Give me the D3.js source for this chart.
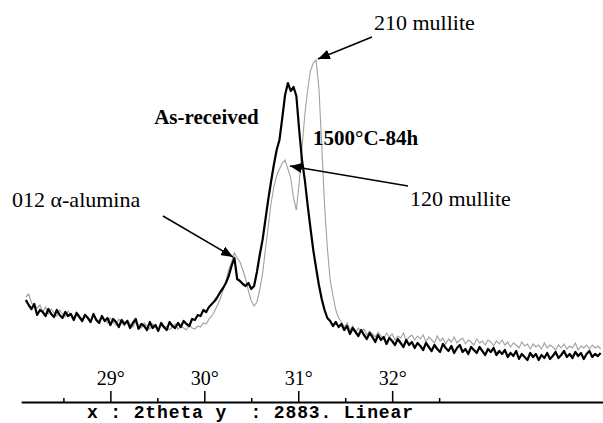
<!DOCTYPE html>
<html>
<head>
<meta charset="utf-8">
<script src="https://cdn.jsdelivr.net/npm/d3@7"></script>
<style>
  html, body { margin: 0; padding: 0; background: #fff; }
  svg { display: block; }
</style>
</head>
<body>
<svg id="chart" width="603" height="423"></svg>
<script>
// ---- data ----
// 2theta sampling grid (instrument step 0.03 deg starting at 28.10 deg)
const twoThetaStart = 28.10;
const twoThetaStep = 0.03;

// As-received (black) intensities, arbitrary units
const asReceived = [
  100, 95, 91, 96, 85, 90, 88, 84, 91, 86,
  83, 90, 85, 82, 88, 84, 86, 80, 87, 83,
  79, 85, 82, 78, 86, 80, 77, 84, 79, 82,
  75, 81, 78, 73, 80, 76, 79, 72, 77, 81,
  71, 76, 74, 70, 78, 72, 75, 69, 77, 73,
  70, 78, 74, 72, 77, 73, 79, 76, 74, 81,
  80, 85, 84, 90, 88, 93, 96, 99, 103, 108,
  112, 117, 124, 134, 142, 121, 119, 116, 114, 117,
  111, 114, 128, 145, 160, 180, 200, 218, 235, 250,
  260, 282, 305, 317, 309, 313, 304, 270, 240, 220,
  195, 172, 150, 132, 115, 101, 90, 82, 79, 74,
  78, 73, 76, 70, 74, 66, 72, 68, 64, 70,
  65, 61, 67, 63, 58, 65, 60, 63, 56, 62,
  59, 55, 61, 57, 53, 60, 55, 58, 52, 57,
  54, 50, 57, 53, 49, 55, 51, 48, 56, 52,
  49, 54, 47, 52, 55, 48, 51, 46, 53, 50,
  47, 53, 49, 45, 51, 48, 52, 45, 49, 46,
  50, 43, 47, 44, 49, 41, 46, 43, 40, 47,
  43, 46, 40, 45, 42, 47, 41, 44, 48, 42,
  45, 49, 43, 46, 42, 48, 44, 47, 41, 46,
  49, 43, 46, 44, 47
];

// 1500°C-84h (grey) intensities, arbitrary units
const heatTreated = [
  103, 106, 97, 94, 92, 95, 88, 93, 86, 91,
  87, 84, 90, 86, 83, 89, 85, 81, 88, 84,
  80, 86, 83, 79, 85, 81, 78, 84, 80, 77,
  82, 78, 75, 81, 77, 74, 80, 76, 73, 78,
  75, 72, 77, 74, 71, 76, 73, 70, 75, 72,
  74, 70, 73, 76, 71, 74, 72, 70, 75, 72,
  71, 74, 73, 77, 76, 81, 84, 89, 95, 101,
  110, 119, 130, 138, 147, 142, 138, 130, 121, 109,
  99, 94, 98, 110, 126, 150, 173, 196, 213, 224,
  231, 237, 240, 231, 222, 202, 190, 217, 252, 285,
  310, 329, 337, 340, 312, 255, 195, 152, 120, 104,
  90, 82, 78, 73, 77, 70, 74, 67, 72, 68,
  71, 65, 69, 66, 63, 68, 64, 61, 67, 63,
  66, 60, 64, 62, 67, 59, 63, 65, 60, 64,
  61, 65, 58, 63, 60, 57, 64, 59, 62, 56,
  61, 58, 63, 57, 60, 62, 56, 60, 58, 55,
  61, 57, 59, 55, 60, 58, 54, 59, 56, 60,
  55, 58, 53, 57, 55, 52, 58, 54, 56, 51,
  56, 53, 55, 51, 57, 52, 55, 53, 50, 55,
  52, 56, 51, 54, 52, 57, 50, 54, 52, 55,
  51, 55, 52, 54, 51
];

const majorTicks = [29, 30, 31, 32];
const minorTicks = [28.5, 29.5, 30.5, 31.5, 32.5];
const tickLabel = d => d + "\u00B0";
const footerText = "x : 2theta y  : 2883. Linear";

// annotation arrows in data units (2theta, intensity)
const arrowNotes = [
  { tail: [31.785, 363], tip: [31.21, 341] },   // 210 mullite
  { tail: [32.169, 214], tip: [30.912, 234] },  // 120 mullite
  { tail: [29.560, 184], tip: [30.306, 143] }   // 012 alpha-alumina
];
const textNotes = [
  { text: "210 mullite",   at: [31.806, 370], bold: false },
  { text: "120 mullite",   at: [32.190, 194], bold: false },
  { text: "012 \u03B1-alumina", at: [27.953, 193], bold: false },
  { text: "As-received",   at: [29.466, 276], bold: true },
  { text: "1500\u00B0C-84h", at: [31.157, 255], bold: true }
];

// ---- chart ----
const svg = d3.select("#chart");
const axisY = 402;

const x = d3.scaleLinear().domain([28.05, 34.45]).range([21.14, 622.3]);
const y = d3.scaleLinear().domain([0, 360]).range([400, 40]);

const theta = asReceived.map((_, i) => twoThetaStart + i * twoThetaStep);

const line = d3.line()
  .x((d, i) => x(theta[i]))
  .y(d => y(d))
  .curve(d3.curveLinear);

svg.append("path")
  .datum(heatTreated)
  .attr("fill", "none")
  .attr("stroke", "#a0a0a0")
  .attr("stroke-width", 1.1)
  .attr("d", line);

svg.append("path")
  .datum(asReceived)
  .attr("fill", "none")
  .attr("stroke", "#000")
  .attr("stroke-width", 2.2)
  .attr("stroke-linejoin", "round")
  .attr("d", line);

// axis (labels above)
const gMinor = svg.append("g").attr("transform", `translate(0,${axisY})`)
  .call(d3.axisTop(x).tickValues(minorTicks).tickSize(4).tickFormat(""));
gMinor.select(".domain").remove();
gMinor.selectAll("line").attr("stroke", "#000").attr("stroke-width", 1.5);

const gMajor = svg.append("g").attr("transform", `translate(0,${axisY})`)
  .call(d3.axisTop(x).tickValues(majorTicks).tickSize(11).tickSizeOuter(0).tickPadding(6).tickFormat(tickLabel));
gMajor.select(".domain").attr("stroke", "#000").attr("stroke-width", 2);
gMajor.selectAll("line").attr("stroke", "#000").attr("stroke-width", 1.5);
gMajor.selectAll("text")
  .attr("font-family", "'Liberation Serif', 'Times New Roman', serif")
  .attr("font-size", 20)
  .attr("fill", "#000");

svg.append("text")
  .attr("x", 87).attr("y", 418)
  .attr("xml:space", "preserve")
  .attr("font-family", "'Liberation Mono', 'DejaVu Sans Mono', monospace")
  .attr("font-weight", "bold")
  .attr("font-size", 18)
  .attr("textLength", 326)
  .attr("lengthAdjust", "spacing")
  .text(footerText);

// arrows
const defs = svg.append("defs");
defs.append("marker")
  .attr("id", "ah")
  .attr("viewBox", "0 0 12 10")
  .attr("refX", 12).attr("refY", 5)
  .attr("markerWidth", 12).attr("markerHeight", 10)
  .attr("markerUnits", "userSpaceOnUse")
  .attr("orient", "auto")
  .append("path").attr("d", "M0,0 L12,5 L0,10 Z").attr("fill", "#000");

svg.selectAll("line.arrow").data(arrowNotes).enter().append("line")
  .attr("class", "arrow")
  .attr("x1", d => x(d.tail[0])).attr("y1", d => y(d.tail[1]))
  .attr("x2", d => x(d.tip[0])).attr("y2", d => y(d.tip[1]))
  .attr("stroke", "#000").attr("stroke-width", 1.5)
  .attr("marker-end", "url(#ah)");

svg.selectAll("text.note").data(textNotes).enter().append("text")
  .attr("class", "note")
  .attr("x", d => x(d.at[0])).attr("y", d => y(d.at[1]))
  .attr("font-family", "'Liberation Serif', 'Times New Roman', serif")
  .attr("font-size", d => d.bold ? 21 : 22)
  .attr("font-weight", d => d.bold ? "bold" : "normal")
  .attr("fill", "#000")
  .text(d => d.text);
</script>
</body>
</html>
